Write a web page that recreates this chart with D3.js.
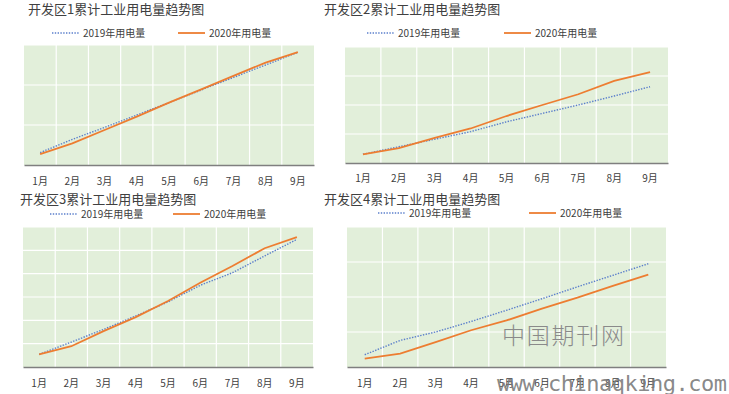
<!DOCTYPE html>
<html>
<head>
<meta charset="utf-8">
<script src="https://cdn.jsdelivr.net/npm/d3@7"></script>
<style>
body { margin: 0; background: #fff; }
svg { display: block; font-family: "Noto Sans CJK SC", "Noto Sans", sans-serif; }
</style>
</head>
<body>
<svg id="chart" width="729" height="394"></svg>
<script>
var months = ["1月", "2月", "3月", "4月", "5月", "6月", "7月", "8月", "9月"];
var seriesNames = ["2019年用电量", "2020年用电量"];
var titles = ["开发区1累计工业用电量趋势图", "开发区2累计工业用电量趋势图",
	"开发区3累计工业用电量趋势图", "开发区4累计工业用电量趋势图"];

var zone1_2019 = [0.31, 0.64, 0.94, 1.25, 1.56, 1.875, 2.19, 2.5, 2.82];
var zone1_2020 = [0.27, 0.54, 0.875, 1.21, 1.56, 1.89, 2.23, 2.56, 2.82];
var zone2_2019 = [0.30, 0.56, 0.82, 1.08, 1.42, 1.71, 2.0, 2.31, 2.63];
var zone2_2020 = [0.30, 0.51, 0.87, 1.19, 1.62, 2.0, 2.37, 2.83, 3.13];
var zone3_2019 = [0.54, 1.07, 1.61, 2.19, 2.79, 3.5, 4.04, 4.76, 5.47];
var zone3_2020 = [0.54, 0.89, 1.54, 2.14, 2.83, 3.61, 4.33, 5.09, 5.57];
var zone4_2019 = [0.35, 0.76, 1.0, 1.30, 1.62, 1.95, 2.29, 2.62, 2.95];
var zone4_2020 = [0.24, 0.38, 0.71, 1.05, 1.33, 1.67, 1.98, 2.32, 2.64];
var yMax = [3, 4, 6, 4];

/*layout of each small chart*/
var panels = [
	{ s19: zone1_2019, s20: zone1_2020, left: 24, right: 314, top: 45, bottom: 165,
	  titleX: 28, titleY: 14, legY: 33, leg: [52, 178], labY: 182 },
	{ s19: zone2_2019, s20: zone2_2020, left: 345, right: 668, top: 47, bottom: 163,
	  titleX: 324, titleY: 14, legY: 33, leg: [367, 504], labY: 179 },
	{ s19: zone3_2019, s20: zone3_2020, left: 23, right: 313, top: 227, bottom: 367,
	  titleX: 20, titleY: 204, legY: 214, leg: [50, 173], labY: 384 },
	{ s19: zone4_2019, s20: zone4_2020, left: 347, right: 666, top: 227, bottom: 367,
	  titleX: 324, titleY: 204, legY: 213, leg: [378, 529], labY: 384 }
];

var svg = d3.select("#chart");

panels.forEach(function(p, i) {
	var g = svg.append("g");
	var x = d3.scaleBand().domain(months).range([p.left, p.right]).padding(0);
	var y = d3.scaleLinear().domain([0, yMax[i]]).range([p.bottom, p.top]);

	g.append("rect")
		.attr("x", p.left).attr("y", p.top)
		.attr("width", p.right - p.left).attr("height", p.bottom - p.top)
		.attr("fill", "#e2efda");

	//horizontal grid
	g.selectAll(".hg").data(d3.range(1, yMax[i] + 1)).enter().append("line")
		.attr("x1", p.left).attr("x2", p.right)
		.attr("y1", function(d) { return y(d); })
		.attr("y2", function(d) { return y(d); })
		.attr("stroke", "#fff").attr("stroke-width", 1.2);

	//vertical grid at band edges
	g.selectAll(".vg").data(months.slice(1)).enter().append("line")
		.attr("x1", function(d) { return x(d); })
		.attr("x2", function(d) { return x(d); })
		.attr("y1", p.top).attr("y2", p.bottom)
		.attr("stroke", "#fff").attr("stroke-width", 1.2);

	var xAxis = d3.axisBottom(x).tickSize(0).tickPadding(p.labY - p.bottom - 4);
	var ax = g.append("g").attr("transform", "translate(0," + p.bottom + ")").call(xAxis);
	ax.select(".domain").attr("stroke", "#7f7f7f").attr("stroke-width", 1.5);
	ax.selectAll("text").attr("fill", "#404040")
		.style("font-size", "10px").style("font-family", "Noto Sans CJK SC");

	var line = d3.line()
		.x(function(d, j) { return x(months[j]) + x.bandwidth() / 2; })
		.y(function(d) { return y(d); });

	g.append("path").datum(p.s19).attr("d", line)
		.attr("fill", "none").attr("stroke", "#5b7fcb")
		.attr("stroke-width", 1.4).attr("stroke-dasharray", "1.4,1.4");
	g.append("path").datum(p.s20).attr("d", line)
		.attr("fill", "none").attr("stroke", "#ed7d31")
		.attr("stroke-width", 1.8);

	g.append("text").attr("x", p.titleX).attr("y", p.titleY)
		.attr("fill", "#404040").style("font-size", "13px")
		.text(titles[i]);

	//legend
	seriesNames.forEach(function(name, k) {
		var lx = p.leg[k];
		g.append("line")
			.attr("x1", lx).attr("x2", lx + 27)
			.attr("y1", p.legY).attr("y2", p.legY)
			.attr("stroke", k ? "#ed7d31" : "#5b7fcb")
			.attr("stroke-width", k ? 1.8 : 1.4)
			.attr("stroke-dasharray", k ? null : "1.4,1.4");
		g.append("text").attr("x", lx + 31).attr("y", p.legY + 3.5)
			.attr("fill", "#404040").style("font-size", "10px")
			.text(name);
	});
});

/*watermark*/
svg.append("text").attr("x", 502).attr("y", 344)
	.attr("fill", "#8a8a8a").style("font-size", "23px")
	.style("font-family", "Noto Sans CJK SC").style("font-weight", "300")
	.attr("textLength", 122).text("中国期刊网");
svg.append("text").attr("x", 497).attr("y", 391)
	.attr("fill", "#7a7a7a").attr("fill-opacity", 0.9).style("font-size", "22px")
	.style("font-family", "DejaVu Sans Mono")
	.attr("textLength", 230).text("www.chinaqking.com");
</script>
</body>
</html>
